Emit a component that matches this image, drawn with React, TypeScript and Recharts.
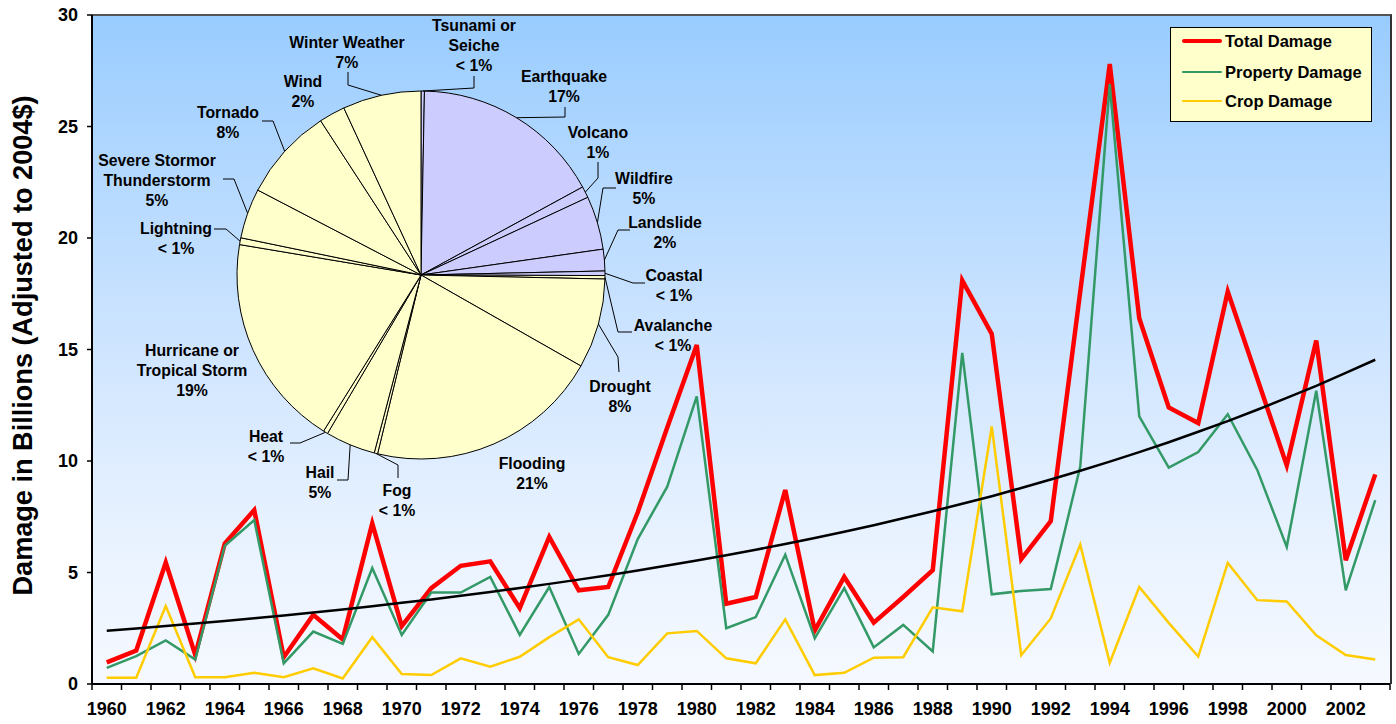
import React from 'react';
import { LineChart, Line, XAxis, YAxis, Legend, PieChart, Pie, Cell } from 'recharts';

// ---------- data ----------
const years = [
  '1960', '1961', '1962', '1963', '1964', '1965', '1966', '1967', '1968', '1969',
  '1970', '1971', '1972', '1973', '1974', '1975', '1976', '1977', '1978', '1979',
  '1980', '1981', '1982', '1983', '1984', '1985', '1986', '1987', '1988', '1989',
  '1990', '1991', '1992', '1993', '1994', '1995', '1996', '1997', '1998', '1999',
  '2000', '2001', '2002', '2003',
];

const totalDamage = [
  0.97, 1.5, 5.45, 1.3, 6.3, 7.8, 1.2, 3.1, 2.0, 7.2,
  2.6, 4.3, 5.3, 5.5, 3.4, 6.6, 4.2, 4.35, 7.7, 11.5,
  15.2, 3.6, 3.9, 8.7, 2.4, 4.8, 2.75, 3.9, 5.1, 18.1,
  15.7, 5.6, 7.3, 17.6, 27.8, 16.4, 12.4, 11.7, 17.6, 13.7,
  9.8, 15.4, 5.55, 9.4,
];

const propertyDamage = [
  0.72, 1.25, 1.95, 1.1, 6.2, 7.35, 0.93, 2.35, 1.8, 5.2,
  2.2, 4.1, 4.1, 4.8, 2.2, 4.35, 1.35, 3.1, 6.5, 8.85,
  12.9, 2.5, 3.0, 5.8, 2.05, 4.3, 1.64, 2.65, 1.46, 14.85,
  4.02, 4.17, 4.26, 9.75, 26.9, 12.0, 9.7, 10.4, 12.1, 9.6,
  6.15, 13.15, 4.2, 8.25,
];

const cropDamage = [
  0.28, 0.28, 3.5, 0.3, 0.3, 0.5, 0.3, 0.7, 0.25, 2.1,
  0.45, 0.4, 1.15, 0.78, 1.22, 2.1, 2.9, 1.2, 0.85, 2.27,
  2.38, 1.15, 0.93, 2.9, 0.4, 0.5, 1.18, 1.2, 3.44, 3.26,
  11.55, 1.29, 2.94, 6.25, 0.95, 4.35, 2.74, 1.23, 5.43, 3.76,
  3.7, 2.18, 1.3, 1.1,
];

// exponential trend line
const trendDamage = [
  2.39, 2.49, 2.6, 2.71, 2.83, 2.95, 3.07, 3.21, 3.34, 3.49,
  3.64, 3.79, 3.96, 4.13, 4.3, 4.49, 4.68, 4.88, 5.09, 5.31,
  5.54, 5.77, 6.02, 6.28, 6.55, 6.83, 7.12, 7.43, 7.75, 8.08,
  8.42, 8.79, 9.17, 9.56, 9.97, 10.4, 10.84, 11.31, 11.79, 12.3,
  12.83, 13.37, 13.95, 14.54,
];

const yTicks = [0, 5, 10, 15, 20, 25, 30];

const seriesNames = ['Total Damage', 'Property Damage', 'Crop Damage'];

const hazardNames = [
  'Tsunami or Seiche', 'Earthquake', 'Volcano', 'Wildfire', 'Landslide', 'Coastal',
  'Avalanche', 'Drought', 'Flooding', 'Fog', 'Hail', 'Heat',
  'Hurricane or Tropical Storm', 'Lightning', 'Severe Storm or Thunderstorm', 'Tornado', 'Wind', 'Winter Weather',
];
const hazardShares = [
  0.3, 16.8, 1.0, 4.7, 1.9, 0.4,
  0.3, 7.9, 20.6, 0.3, 4.4, 0.4,
  18.8, 0.6, 4.4, 8.2, 2.3, 6.9,
];
const hazardShareLabels = [
  '< 1%', '17%', '1%', '5%', '2%', '< 1%',
  '< 1%', '8%', '21%', '< 1%', '5%', '< 1%',
  '19%', '< 1%', '5%', '8%', '2%', '7%',
];
const hazardLabelLines = [
  ['Tsunami or', 'Seiche'], ['Earthquake'], ['Volcano'], ['Wildfire'], ['Landslide'], ['Coastal'],
  ['Avalanche'], ['Drought'], ['Flooding'], ['Fog'], ['Hail'], ['Heat'],
  ['Hurricane or', 'Tropical Storm'], ['Lightning'], ['Severe Stormor', 'Thunderstorm'], ['Tornado'], ['Wind'], ['Winter Weather'],
];

// ---------- styles / layout ----------
const W = 1396;
const H = 724;
const PLOT_LEFT = 92;
const PLOT_TOP = 15;
const PLOT_RIGHT = 1390;
const PLOT_BOTTOM = 684;
const STEP = (PLOT_RIGHT - PLOT_LEFT) / years.length;
const FONT = '"Liberation Sans", Arial, sans-serif';

const seriesColors = ['#ff0000', '#339966', '#ffcc00'];
const sliceFills = [
  '#ccccff', '#ccccff', '#ccccff', '#ccccff', '#ccccff', '#ccccff',
  '#ffffcc', '#ffffcc', '#ffffcc', '#ffffcc', '#ffffcc', '#ffffcc',
  '#ffffcc', '#ffffcc', '#ffffcc', '#ffffcc', '#ffffcc', '#ffffcc',
];

const PIE_CX = 421;
const PIE_CY = 275;
const PIE_R = 184;

// label text centre (first line) and leader polyline, relative to pie centre
type Lay = { tx: number; ty: number; leader?: number[][] };
const pieLabelLayout: Lay[] = [
  { tx: 53, ty: -250, leader: [[53, -187], [53, -199]] },
  { tx: 143, ty: -199, leader: [[144, -158], [144, -168]] },
  { tx: 177, ty: -143, leader: [[177, -97], [177, -113]] },
  { tx: 223, ty: -97, leader: [[182, -87], [195, -87]] },
  { tx: 244, ty: -53, leader: [[197, -45], [209, -45]] },
  { tx: 253, ty: 0, leader: [[212, 8], [224, 8]] },
  { tx: 252, ty: 50, leader: [[197, 57], [211, 57]] },
  { tx: 199, ty: 111, leader: [[197, 82], [198, 97]] },
  { tx: 111, ty: 188 },
  { tx: -24, ty: 215, leader: [[-23, 190], [-23, 203]] },
  { tx: -101, ty: 197, leader: [[-73, 205], [-84, 205]] },
  { tx: -155, ty: 161, leader: [[-121, 168], [-131, 168]] },
  { tx: -229, ty: 75 },
  { tx: -245, ty: -47, leader: [[-195, -46], [-207, -46]] },
  { tx: -264, ty: -115, leader: [[-187, -96], [-198, -96]] },
  { tx: -193, ty: -163, leader: [[-148, -154], [-159, -154]] },
  { tx: -118, ty: -194 },
  { tx: -74, ty: -233, leader: [[-73, -190], [-73, -203]] },
];

const lineData = years.map((y, i) => ({
  year: y,
  total: totalDamage[i],
  property: propertyDamage[i],
  crop: cropDamage[i],
  trend: trendDamage[i],
}));

const pieData = hazardNames.map((n, i) => ({ name: n, value: hazardShares[i] }));

const RAD = Math.PI / 180;

function renderPieLabel(props: any) {
  const { midAngle, outerRadius, index } = props;
  const cx = typeof props.cx === 'number' ? props.cx : PIE_CX;
  const cy = typeof props.cy === 'number' ? props.cy : PIE_CY;
  const r = typeof outerRadius === 'number' ? outerRadius : PIE_R;
  const lay = pieLabelLayout[index];
  if (!lay) return null;
  const ex = cx + r * Math.cos(-midAngle * RAD);
  const ey = cy + r * Math.sin(-midAngle * RAD);
  const lines = [...hazardLabelLines[index], hazardShareLabels[index]];
  const pts = lay.leader ? [[ex, ey], ...lay.leader.map(([dx, dy]) => [cx + dx, cy + dy])] : null;
  const tx = cx + lay.tx;
  return (
    <g key={`pl-${index}`}>
      {pts && (
        <polyline
          points={pts.map((p) => `${p[0]},${p[1]}`).join(' ')}
          fill="none"
          stroke="#000"
          strokeWidth={1}
        />
      )}
      <text x={tx} y={cy + lay.ty} textAnchor="middle" fontFamily={FONT} fontWeight="bold" fontSize={15.8} fill="#000">
        {lines.map((l, i) => (
          <tspan key={i} x={tx} dy={i === 0 ? 5.6 : 20}>
            {l}
          </tspan>
        ))}
      </text>
    </g>
  );
}

function XTick(props: any) {
  const { x, y, payload } = props;
  const year = String(payload.value);
  const show = Number(year) % 2 === 0;
  const first = year === years[0];
  return (
    <g>
      <line x1={x + STEP / 2} x2={x + STEP / 2} y1={y} y2={y + 6} stroke="#000" strokeWidth={1.5} />
      {first && <line x1={x - STEP / 2} x2={x - STEP / 2} y1={y} y2={y + 6} stroke="#000" strokeWidth={1.5} />}
      {show && (
        <text x={x} y={y + 31} textAnchor="middle" fontFamily={FONT} fontWeight="bold" fontSize={18} fill="#000">
          {year}
        </text>
      )}
    </g>
  );
}

function YTitle(props: any) {
  const vb = props.viewBox || { x: 0, y: PLOT_TOP, height: PLOT_BOTTOM - PLOT_TOP };
  const cx = 22;
  const cy = (vb.y ?? PLOT_TOP) + (vb.height ?? PLOT_BOTTOM - PLOT_TOP) / 2 - 4;
  return (
    <text
      x={cx}
      y={cy}
      transform={`rotate(-90 ${cx} ${cy})`}
      textAnchor="middle"
      dominantBaseline="central"
      fontFamily={FONT}
      fontWeight="bold"
      fontSize={28}
      textLength={500}
      lengthAdjust="spacingAndGlyphs"
      fill="#000"
    >
      Damage in Billions (Adjusted to 2004$)
    </text>
  );
}

function LegendBox() {
  const widths = [4, 2.5, 2.5];
  return (
    <div
      style={{
        position: 'relative',
        width: 202,
        height: 95,
        boxSizing: 'border-box',
        background: '#ffffcc',
        border: '1.5px solid #000',
        fontFamily: FONT,
        fontWeight: 'bold',
        fontSize: 16.5,
        color: '#000',
      }}
    >
      {seriesNames.map((n, i) => (
        <div key={n} style={{ position: 'absolute', left: 0, top: [13, 44, 73][i] - 10, height: 20, width: 200 }}>
          <div
            style={{
              position: 'absolute',
              left: 11,
              top: 10 - widths[i] / 2,
              width: 40,
              height: widths[i],
              background: seriesColors[i],
              borderRadius: 2,
            }}
          />
          <div style={{ position: 'absolute', left: 54, top: 0, lineHeight: '20px', whiteSpace: 'nowrap' }}>{n}</div>
        </div>
      ))}
    </div>
  );
}

export default function App() {
  return (
    <div style={{ position: 'absolute', left: 0, top: 0, width: W, height: H, background: '#fff', overflow: 'hidden' }}>
      {/* plot area background */}
      <div
        style={{
          position: 'absolute',
          left: PLOT_LEFT,
          top: PLOT_TOP - 1,
          width: PLOT_RIGHT - PLOT_LEFT + 2,
          height: PLOT_BOTTOM - PLOT_TOP + 1,
          boxSizing: 'border-box',
          borderTop: '2px solid #555',
          borderRight: '2px solid #333',
          background: 'linear-gradient(to bottom, #99ccff 0%, #b5d9ff 25%, #cfe5ff 50%, #e6f1ff 75%, #f6f9ff 100%)',
        }}
      />
      <div style={{ position: 'absolute', left: 0, top: 0 }}>
        <LineChart width={W} height={H} data={lineData} margin={{ top: PLOT_TOP, right: W - PLOT_RIGHT, left: 0, bottom: 0 }}>
          <XAxis
            dataKey="year"
            height={H - PLOT_BOTTOM}
            interval={0}
            tickLine={false}
            tickSize={0}
            tickMargin={0}
            padding={{ left: STEP / 2, right: STEP / 2 }}
            axisLine={{ stroke: '#000', strokeWidth: 2 }}
            tick={<XTick />}
          />
          <YAxis
            width={PLOT_LEFT}
            domain={[0, 30]}
            ticks={yTicks}
            interval={0}
            tickSize={5}
            tickMargin={9}
            axisLine={{ stroke: '#000', strokeWidth: 2 }}
            tickLine={{ stroke: '#000', strokeWidth: 1.5 }}
            tick={{ fill: '#000', fontSize: 18, fontWeight: 'bold', fontFamily: FONT }}
            label={{ content: <YTitle /> }}
          />
          <Legend
            layout="vertical"
            align="center"
            verticalAlign="middle"
            wrapperStyle={{ left: 1170, top: 27, width: 202, height: 95 }}
            content={() => <LegendBox />}
          />
          <Line type="linear" dataKey="total" name={seriesNames[0]} stroke={seriesColors[0]} strokeWidth={4.5} dot={false} activeDot={false} isAnimationActive={false} />
          <Line type="linear" dataKey="property" name={seriesNames[1]} stroke={seriesColors[1]} strokeWidth={2.5} dot={false} activeDot={false} isAnimationActive={false} />
          <Line type="linear" dataKey="crop" name={seriesNames[2]} stroke={seriesColors[2]} strokeWidth={2.5} dot={false} activeDot={false} isAnimationActive={false} />
          <Line type="linear" dataKey="trend" name="Trend" stroke="#000" strokeWidth={2.5} dot={false} activeDot={false} legendType="none" isAnimationActive={false} />
        </LineChart>
      </div>
      <div style={{ position: 'absolute', left: 0, top: 0, pointerEvents: 'none' }}>
        <PieChart width={W} height={H} margin={{ top: 0, right: 0, bottom: 0, left: 0 }}>
          <Pie
            data={pieData}
            dataKey="value"
            nameKey="name"
            cx={PIE_CX}
            cy={PIE_CY}
            outerRadius={PIE_R}
            startAngle={90}
            endAngle={-270}
            stroke="#000"
            strokeWidth={1}
            label={renderPieLabel}
            labelLine={false}
            isAnimationActive={false}
          >
            {pieData.map((d, i) => (
              <Cell key={d.name} fill={sliceFills[i]} />
            ))}
          </Pie>
        </PieChart>
      </div>
    </div>
  );
}
